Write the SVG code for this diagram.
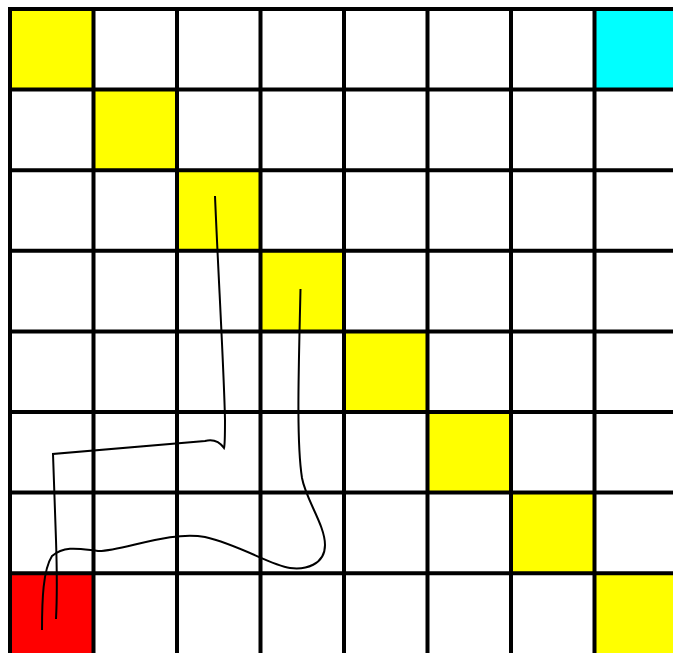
<svg xmlns="http://www.w3.org/2000/svg" width="673" height="653" viewBox="0 0 673 653">
<style>
.y{fill:#ffff00}
.grid{stroke:#000;stroke-width:4;fill:none}
.path{stroke:#000;stroke-width:2;fill:none;stroke-linecap:butt}
</style>
<rect x="0" y="0" width="673" height="653" fill="#fff"/>
<g id="cells">
<rect class="y" x="10" y="9" width="83.5" height="80.6"/>
<rect class="y" x="93.5" y="89.6" width="83.5" height="80.6"/>
<rect class="y" x="177" y="170.2" width="83.5" height="80.6"/>
<rect class="y" x="260.5" y="250.8" width="83.5" height="80.6"/>
<rect class="y" x="344" y="331.4" width="83.5" height="80.6"/>
<rect class="y" x="427.5" y="412" width="83.5" height="80.6"/>
<rect class="y" x="511" y="492.6" width="83.5" height="80.6"/>
<rect class="y" x="594.5" y="573.2" width="83.5" height="80.6"/>
<rect x="594.5" y="9" width="83.5" height="80.6" fill="#00ffff"/>
<rect x="10" y="573.2" width="83.5" height="80.6" fill="#ff0000"/>
</g>
<g id="grid" class="grid">
<path d="M10,7V655 M93.5,9V655 M177,9V655 M260.5,9V655 M344,9V655 M427.5,9V655 M511,9V655 M594.5,9V655"/>
<path d="M8,9H680 M8,89.6H680 M8,170.2H680 M8,250.8H680 M8,331.4H680 M8,412H680 M8,492.6H680 M8,573.2H680"/>
</g>
<g id="connectors" class="path">
<path d="M215,196 C218,270 224,370 225,420 C225,435 225,445 224,448 C219,441 213,439 205,441 L53,454 L56,540 C57,570 57,600 56,619"/>
<path d="M300.5,289 C299,360 296,440 302,478 C306,500 325,525 325,545 C325,565 305,570 290,568 C270,565 240,545 205,537 C170,530 120,552 98,551 C80,549 65,545 52,556 C43,570 42,600 42,630"/>
</g>
</svg>
